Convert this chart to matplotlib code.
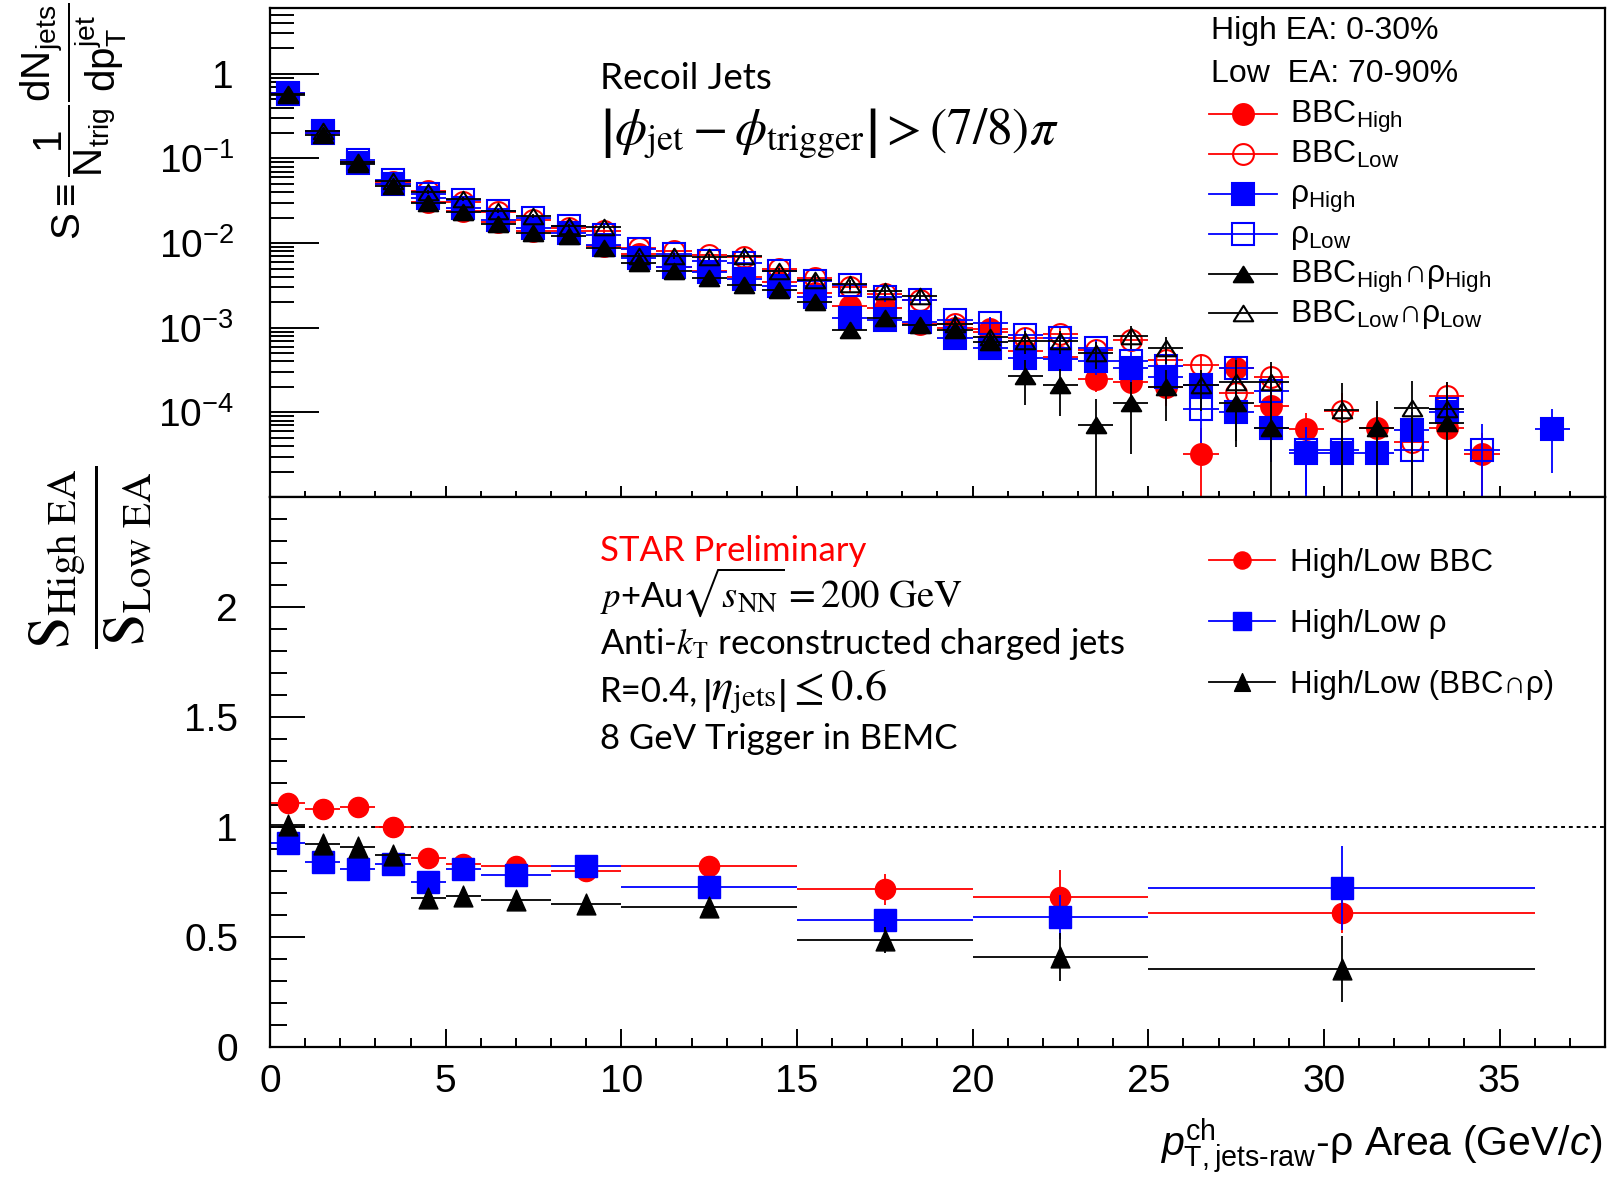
import numpy as np
import matplotlib
matplotlib.use("Agg")
import matplotlib.pyplot as plt
from matplotlib.lines import Line2D
from matplotlib.path import Path
from matplotlib.ticker import MultipleLocator, LogLocator, FixedLocator, FuncFormatter

nan = np.nan

# ---- recoil jet spectra, 1 GeV/c bins ----
pt_bins = np.arange(0.5, 37, 1.0)

bbc_high = [0.60, 0.20, 0.088, 0.050, 0.031, 0.024, 0.018, 0.014, 0.014, 0.0092,
            0.0075, 0.0052, 0.0047, 0.0040, 0.0035, 0.0026, 0.0018, 0.0017, 0.0011, 0.0010,
            0.00096, 0.00053, 0.00045, 0.00025, 0.00023, 0.00020, 3.2e-5, 0.00033, 0.00012, 6.4e-5,
            nan, 6.6e-5, nan, 6.6e-5, 3.2e-5, nan, nan]
bbc_low = [0.58, 0.21, 0.092, 0.053, 0.041, 0.031, 0.023, 0.019, 0.015, 0.014,
           0.0087, 0.0081, 0.0073, 0.0068, 0.0050, 0.0039, 0.0030, 0.0025, 0.0021, 0.0011,
           0.0009, 0.00075, 0.00085, 0.00055, 0.00072, 0.00042, 0.00036, 0.00017, 0.00026, nan,
           0.000105, nan, 4.5e-5, 0.000156, nan, nan, nan]
rho_high = [0.58, 0.20, 0.088, 0.050, 0.034, 0.026, 0.019, 0.015, 0.013, 0.0095,
            0.0066, 0.0052, 0.0045, 0.0038, 0.0031, 0.0023, 0.0013, 0.00125, 0.00118, 0.00075,
            0.00058, 0.00044, 0.00043, 0.00040, 0.00033, 0.00026, 0.00021, 0.00010, 6.5e-5, 3.3e-5,
            3.3e-5, 3.3e-5, 6.2e-5, 0.00010, nan, nan, 6.4e-5]
rho_low = [0.60, 0.21, 0.095, 0.055, 0.038, 0.032, 0.024, 0.020, 0.016, 0.0125,
           0.0086, 0.0075, 0.0062, 0.0058, 0.0047, 0.0036, 0.0032, 0.0023, 0.0021, 0.00125,
           0.00115, 0.00082, 0.00075, 0.00057, 0.00040, 0.00035, 0.00011, 0.00033, 0.00018, 3.6e-5,
           3.6e-5, nan, 3.6e-5, 0.00011, 3.6e-5, nan, nan]
both_high = [0.56, 0.19, 0.085, 0.047, 0.030, 0.023, 0.017, 0.013, 0.012, 0.0088,
             0.0059, 0.0047, 0.0039, 0.0032, 0.0028, 0.0020, 0.00093, 0.0013, 0.00108, 0.00093,
             0.00067, 0.00027, 0.00021, 7.0e-5, 0.00013, 0.00020, nan, 0.00013, 6.5e-5, nan,
             nan, 6.6e-5, nan, 7.5e-5, nan, nan, nan]
both_low = [0.58, 0.21, 0.092, 0.054, 0.040, 0.033, 0.024, 0.021, 0.016, 0.0155,
            0.0071, 0.0071, 0.0069, 0.0070, 0.0047, 0.0037, 0.0033, 0.0027, 0.0024, 0.00112,
            0.00078, 0.0007, 0.0007, 0.0005, 0.0008, 0.00058, 0.00021, 0.00023, 0.00023, nan,
            0.000108, nan, 0.000113, 0.00011, nan, nan, nan]

# relative stat. errors: shared below 21 GeV/c, per selection above
rel_err_low = [0.03] * 4 + [0.05] * 6 + [0.08] * 5 + [0.12] * 5 + [0.15]
bbc_high_tail = [0.25, 0.3, 0.3, 0.35, 0.4, 1.05, 0.4, 0.5, 0.55, nan, 0.6, nan, 0.6, 0.8, nan, nan]
bbc_low_tail = [0.2, 0.2, 0.25, 0.25, 0.3, 0.35, 0.45, 0.35, nan, 0.6, nan, 0.6, 0.45, nan, nan, nan]
rho_high_tail = [0.25, 0.25, 0.3, 0.3, 0.35, 0.4, 0.5, 0.6, 1.05, 0.8, 0.8, 0.65, 0.6, nan, nan, 0.7]
rho_low_tail = [0.2, 0.2, 0.25, 0.3, 0.3, 0.6, 0.35, 0.45, 0.7, 0.7, nan, 0.8, 0.5, 1.05, nan, nan]
both_high_tail = [0.55, 0.57, 1.05, 0.75, 0.6, nan, 0.7, 1.05, nan, nan, 1.05, nan, 1.0, nan, nan, nan]
both_low_tail = [0.3, 0.3, 0.35, 0.3, 0.35, 0.5, 0.8, 0.7, nan, 1.05, nan, 1.05, 1.05, nan, nan, nan]

# ---- High/Low EA ratios, variable bins ----
ratio_x = [0.5, 1.5, 2.5, 3.5, 4.5, 5.5, 7, 9, 12.5, 17.5, 22.5, 30.5]
ratio_xerr = [0.5, 0.5, 0.5, 0.5, 0.5, 0.5, 1, 1, 2.5, 2.5, 2.5, 5.5]
ratio_bbc = [1.108, 1.082, 1.089, 0.998, 0.858, 0.832, 0.823, 0.80, 0.823, 0.717, 0.683, 0.609]
ratio_bbc_err = [0.03, 0.025, 0.025, 0.025, 0.025, 0.025, 0.02, 0.025, 0.03, 0.07, 0.12, 0.09]
ratio_rho = [0.926, 0.842, 0.809, 0.833, 0.75, 0.809, 0.782, 0.824, 0.726, 0.577, 0.592, 0.724]
ratio_rho_err = [0.03, 0.025, 0.025, 0.025, 0.025, 0.025, 0.02, 0.025, 0.03, 0.04, 0.10, 0.19]
ratio_both = [1.01, 0.923, 0.908, 0.873, 0.676, 0.685, 0.668, 0.65, 0.636, 0.486, 0.41, 0.353]
ratio_both_err = [0.03, 0.03, 0.03, 0.03, 0.03, 0.03, 0.025, 0.03, 0.04, 0.06, 0.11, 0.15]

W, H = 1616, 1184
HELV = "Liberation Sans"
CALI = "Lato"

plt.rcParams["mathtext.fontset"] = "custom"
plt.rcParams["mathtext.rm"] = HELV
plt.rcParams["mathtext.it"] = HELV + ":italic"
plt.rcParams["mathtext.bf"] = HELV + ":bold"
plt.rcParams["font.family"] = [HELV, "DejaVu Sans"]

# ROOT-like triangles: wide in the spectrum pad, taller in the ratio pad
tri_top = Path([(0, 0.8), (-1, -0.8), (1, -0.8), (0, 0.8)], closed=True)
tri_bot = Path([(0, 1), (-0.9, -1), (0.9, -1), (0, 1)], closed=True)


def fx(px):
    return px / W


def fy(py):
    return 1 - py / H


fig = plt.figure(figsize=(W / 100, H / 100), dpi=100)
ax_top = fig.add_axes([fx(270), fy(497), fx(1605) - fx(270), fy(8) - fy(497)])
ax_bot = fig.add_axes([fx(270), fy(1047), fx(1605) - fx(270), fy(497) - fy(1047)])

for ax in (ax_top, ax_bot):
    for s in ax.spines.values():
        s.set_linewidth(1.6)
    ax.set_xlim(0, 38)
    ax.xaxis.set_major_locator(MultipleLocator(5))
    ax.xaxis.set_minor_locator(MultipleLocator(1))
    ax.tick_params(which="both", direction="in", top=False, right=False, width=1.4)

# ---- spectra ----
top_series = [
    (bbc_high, bbc_high_tail, "red", "o", True, 15),
    (bbc_low, bbc_low_tail, "red", "o", False, 15),
    (rho_high, rho_high_tail, "blue", "s", True, 16),
    (rho_low, rho_low_tail, "blue", "s", False, 16),
    (both_high, both_high_tail, "black", tri_top, True, 14),
    (both_low, both_low_tail, "black", tri_top, False, 14),
]
for vals, tail, col, mk, filled, ms in top_series:
    v = np.array(vals)
    e = v * np.array(rel_err_low + tail)
    lo = np.minimum(e, v * 0.9999)
    ax_top.errorbar(pt_bins, v, xerr=0.5, yerr=[lo, e], fmt="none", ecolor=col,
                    elinewidth=1.3, capsize=0)
    ax_top.plot(pt_bins, v, ls="none", marker=mk, ms=ms, mec=col, mew=1.5,
                mfc=col if filled else "none")

ax_top.set_yscale("log")
ax_top.set_ylim(1.0e-5, 6.0)
ax_top.yaxis.set_major_locator(FixedLocator([1e-4, 1e-3, 1e-2, 1e-1, 1]))
ax_top.yaxis.set_minor_locator(LogLocator(base=10, subs=np.arange(2, 10), numticks=20))
ax_top.yaxis.set_major_formatter(FuncFormatter(
    lambda v, p: "1" if abs(np.log10(v)) < 0.1 else r"$10^{%d}$" % round(np.log10(v))))
ax_top.tick_params(axis="y", which="major", length=35, labelsize=28, pad=26)
ax_top.tick_params(axis="y", which="minor", length=17)
ax_top.tick_params(axis="x", which="major", length=8, labelbottom=False)
ax_top.tick_params(axis="x", which="minor", length=4.3)

# ---- ratios ----
bot_series = [
    (ratio_bbc, ratio_bbc_err, "red", "o", 14.5),
    (ratio_rho, ratio_rho_err, "blue", "s", 15.5),
    (ratio_both, ratio_both_err, "black", tri_bot, 15),
]
for vals, err, col, mk, ms in bot_series:
    ax_bot.errorbar(ratio_x, vals, xerr=ratio_xerr, yerr=err, fmt="none", ecolor=col,
                    elinewidth=1.3, capsize=0)
    ax_bot.plot(ratio_x, vals, ls="none", marker=mk, ms=ms, mec=col, mfc=col)

ax_bot.axhline(1, color="black", lw=1.4, ls=(0, (2.0, 2.0)), zorder=0)
ax_bot.set_ylim(0, 2.5)
ax_bot.yaxis.set_major_locator(FixedLocator([0, 0.5, 1, 1.5, 2]))
ax_bot.yaxis.set_minor_locator(MultipleLocator(0.1))
ax_bot.yaxis.set_major_formatter(FuncFormatter(lambda v, p: "%g" % v))
ax_bot.tick_params(axis="y", which="major", length=25, labelsize=28, pad=23)
ax_bot.tick_params(axis="y", which="minor", length=12.5)
ax_bot.tick_params(axis="x", which="major", length=13, labelsize=28, pad=12)
ax_bot.tick_params(axis="x", which="minor", length=6.5)

# ---- axis titles ----
fig.text(fx(74), fy(121),
         r"S$\equiv\dfrac{\mathrm{1}}{\mathrm{N}_{\mathrm{trig}}}"
         r"\dfrac{\mathrm{dN}_{\mathrm{jets}}}{\mathrm{dp}_{\mathrm{T}}^{\mathrm{jet}}}$",
         rotation=90, ha="center", va="center", fontsize=29, family=HELV)
fig.text(fx(91), fy(557),
         r"$\dfrac{\mathrm{S}_{\mathrm{High\ EA}}}{\mathrm{S}_{\mathrm{Low\ EA}}}$",
         rotation=90, ha="center", va="center", fontsize=42, math_fontfamily="stix")
fig.text(fx(1603), fy(1146),
         r"$p^{\mathrm{ch}}_{\mathrm{T,jets‐raw}}$-ρ Area (GeV/$c$)",
         ha="right", va="center", fontsize=29.5, family=HELV)

# ---- spectrum pad annotations ----
fig.text(fx(600), fy(89), "Recoil Jets", fontsize=26.5, family=CALI, va="baseline")
fig.text(fx(600), fy(145),
         r"$\left|\phi_{\mathrm{jet}}-\phi_{\mathrm{trigger}}\right|>(7/8)\pi$",
         fontsize=37, math_fontfamily="stix", va="baseline")
fig.text(fx(1211), fy(39), "High EA: 0-30%", fontsize=23, family=HELV, va="baseline")
fig.text(fx(1211), fy(82), "Low  EA: 70-90%", fontsize=23, family=HELV, va="baseline")

top_labels = [r"BBC$_{\mathrm{High}}$", r"BBC$_{\mathrm{Low}}$", r"ρ$_{\mathrm{High}}$",
              r"ρ$_{\mathrm{Low}}$", r"BBC$_{\mathrm{High}}$∩ρ$_{\mathrm{High}}$",
              r"BBC$_{\mathrm{Low}}$∩ρ$_{\mathrm{Low}}$"]
top_rows = [114, 154, 194, 234, 274, 313]
for (vals, tail, col, mk, filled, ms), lab, y in zip(top_series, top_labels, top_rows):
    fig.add_artist(Line2D([fx(1209), fx(1243), fx(1277)], [fy(y)] * 3,
                          transform=fig.transFigure, color=col, lw=1.3, marker=mk,
                          markevery=[1], ms=ms, mec=col, mew=1.5,
                          mfc=col if filled else "none"))
    fig.text(fx(1290), fy(y + 9), lab, fontsize=23, family=HELV, va="baseline")

# ---- ratio pad annotations ----
info_lines = [
    ("STAR Preliminary", "red", 561),
    (r"$p$+Au", "black", 607),
    (r"Anti-$k_{\mathrm{T}}$ reconstructed charged jets", "black", 654),
    ("R=0.4,", "black", 701),
    ("8 GeV Trigger in BEMC", "black", 749),
]
for txt, col, yb in info_lines:
    fig.text(fx(600), fy(yb), txt, color=col, fontsize=25, family=CALI,
             math_fontfamily="stix", va="baseline")
# the formula parts are set a little larger than the running text
fig.text(fx(681), fy(607), r"$\sqrt{s_{\mathrm{NN}}}=200\ \mathrm{GeV}$",
         fontsize=28, math_fontfamily="stix", va="baseline")
fig.text(fx(702), fy(701), r"$\left|\eta_{\mathrm{jets}}\right|\leq0.6$",
         fontsize=32, math_fontfamily="stix", va="baseline")

bot_labels = ["High/Low BBC", "High/Low ρ", "High/Low (BBC∩ρ)"]
for (vals, err, col, mk, ms), lab, y in zip(bot_series, bot_labels, [560, 621, 682]):
    fig.add_artist(Line2D([fx(1209), fx(1242), fx(1275)], [fy(y)] * 3,
                          transform=fig.transFigure, color=col, lw=1.3, marker=mk,
                          markevery=[1], ms=ms * 0.85, mec=col, mfc=col))
    fig.text(fx(1290), fy(y + 11), lab, fontsize=22.5, family=HELV, va="baseline")

fig.savefig("out.png", dpi=100)
